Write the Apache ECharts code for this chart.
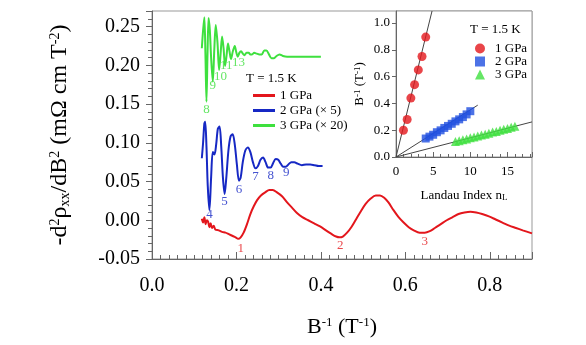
<!DOCTYPE html>
<html>
<head>
<meta charset="utf-8">
<script src="https://cdn.jsdelivr.net/npm/echarts@6/dist/echarts.min.js"></script>
<style>html,body{margin:0;padding:0;background:#fff}#c{width:586px;height:345px}</style>
</head>
<body>
<div id="c"></div>
<script>
// ---- main chart data (B^-1 in T^-1, -d2rho/dB2 in mOhm cm T^-2) ----
const red1x = [0.118,0.121,0.124,0.127,0.130,0.133,0.136,0.139,0.142,0.146,0.150,0.158,0.166,0.174,0.182,0.190,0.198,0.204,0.210,0.217,0.225,0.233,0.241,0.249,0.258,0.268,0.278,0.286,0.296,0.308,0.320,0.332,0.344,0.356,0.370,0.384,0.398,0.412,0.426,0.436,0.444,0.452,0.462,0.472,0.482,0.494,0.506,0.518,0.530,0.540,0.550,0.560,0.572,0.584,0.596,0.608,0.620,0.634,0.646,0.658,0.670,0.684,0.698,0.712,0.726,0.740,0.754,0.768,0.782,0.798,0.814,0.830,0.846,0.862,0.878,0.900];
const red1y = [0.002,-0.003,0.004,-0.005,0.000,-0.002,-0.009,-0.004,-0.010,-0.007,-0.012,-0.013,-0.015,-0.016,-0.018,-0.020,-0.022,-0.024,-0.022,-0.016,-0.005,0.008,0.018,0.026,0.032,0.036,0.039,0.039,0.036,0.031,0.023,0.016,0.009,0.004,0.000,-0.004,-0.008,-0.013,-0.018,-0.021,-0.022,-0.021,-0.016,-0.009,0.000,0.011,0.021,0.028,0.032,0.032,0.029,0.023,0.013,0.004,-0.003,-0.009,-0.013,-0.016,-0.016,-0.014,-0.010,-0.005,0.000,0.004,0.008,0.010,0.011,0.010,0.008,0.005,0.001,-0.003,-0.007,-0.010,-0.013,-0.017];

const blue2x = [0.118,0.121,0.124,0.126,0.129,0.132,0.136,0.140,0.144,0.148,0.152,0.156,0.160,0.164,0.168,0.172,0.176,0.181,0.186,0.191,0.196,0.201,0.206,0.210,0.215,0.221,0.227,0.233,0.239,0.245,0.251,0.257,0.263,0.269,0.275,0.281,0.287,0.293,0.299,0.305,0.311,0.317,0.323,0.330,0.337,0.345,0.355,0.365,0.375,0.385,0.395,0.404];
const blue2y = [0.080,0.100,0.125,0.127,0.095,0.045,0.013,0.055,0.088,0.085,0.098,0.118,0.121,0.095,0.055,0.034,0.055,0.090,0.108,0.111,0.098,0.072,0.051,0.055,0.075,0.090,0.094,0.088,0.075,0.067,0.070,0.078,0.081,0.075,0.068,0.068,0.074,0.079,0.078,0.073,0.069,0.069,0.072,0.075,0.075,0.073,0.071,0.072,0.072,0.071,0.070,0.070];

const green3x = [0.118,0.121,0.124,0.1265,0.129,0.1315,0.134,0.137,0.140,0.144,0.1475,0.151,0.155,0.159,0.1625,0.166,0.1695,0.173,0.1765,0.180,0.1835,0.187,0.1915,0.196,0.1995,0.203,0.207,0.211,0.215,0.219,0.224,0.229,0.233,0.237,0.242,0.248,0.254,0.260,0.266,0.271,0.277,0.283,0.289,0.295,0.302,0.310,0.320,0.335,0.350,0.370,0.385,0.400];
const green3y = [0.222,0.245,0.262,0.215,0.153,0.215,0.261,0.245,0.210,0.179,0.220,0.252,0.230,0.194,0.215,0.237,0.222,0.199,0.212,0.228,0.218,0.208,0.218,0.225,0.217,0.211,0.216,0.218,0.215,0.213,0.216,0.216,0.214,0.214,0.216,0.215,0.214,0.214,0.219,0.219,0.214,0.209,0.209,0.212,0.214,0.212,0.211,0.211,0.211,0.211,0.211,0.211];

// Landau-level index annotations [B^-1, value, text]
const redIdx = [[0.210,-0.036,'1'],[0.446,-0.033,'2'],[0.646,-0.028,'3']];
const blueIdx = [[0.136,0.007,'4'],[0.172,0.024,'5'],[0.206,0.040,'6'],[0.245,0.056,'7'],[0.281,0.058,'8'],[0.318,0.062,'9']];
const greenIdx = [[0.129,0.1425,'8'],[0.1436,0.1735,'9'],[0.162,0.186,'10'],[0.176,0.200,'11'],[0.205,0.203,'13']];

const mainXTicks = [0.0,0.2,0.4,0.6,0.8];
const mainYTicks = [-0.05,0.00,0.05,0.10,0.15,0.20,0.25];

// ---- inset data: Landau index n_L vs B^-1 ----
const inRedN = [1,1.5,2,2.5,3,3.5,4];
const inRedB = [0.20,0.28,0.44,0.54,0.65,0.75,0.895];
const inBlueN = [4,4.5,5,5.5,6,6.5,7,7.5,8,8.5,9,9.5,10];
const inBlueB = [0.138,0.152,0.166,0.185,0.199,0.217,0.232,0.248,0.266,0.281,0.298,0.318,0.342];
const inGreenN = [8,8.5,9,9.5,10,10.5,11,11.5,12,12.5,13,13.5,14,14.5,15,15.5,16];
const inGreenB = [0.116,0.121,0.129,0.135,0.143,0.149,0.156,0.164,0.170,0.177,0.186,0.191,0.199,0.207,0.213,0.222,0.229];
const fitRed = [[0,0],[4.85,1.09]];
const fitBlue = [[0,0],[11,0.387]];
const fitGreen = [[0,0],[18.3,0.262]];

const mainNames = ['1 GPa','2 GPa (\u00d7 5)','3 GPa (\u00d7 20)'];
const insetNames = ['1 GPa','2 GPa','3 GPa'];
const tempText = 'T = 1.5 K';

const RED='#e3161c', BLUE='#1628c4', GREEN='#3ee03e';
const FF = '"Liberation Serif","Times New Roman",serif';
const zip = (a,b)=>a.map((v,i)=>[v,b[i]]);

const chart = echarts.init(document.getElementById('c'), null, {renderer:'canvas'});
const sup = {fontSize:13, fontFamily:FF, verticalAlign:'top', lineHeight:12, color:'#000'};
const supY = {fontSize:14, fontFamily:FF, verticalAlign:'top', lineHeight:13, color:'#000'};
const subY = {fontSize:14, fontFamily:FF, verticalAlign:'bottom', lineHeight:13, color:'#000'};
const supS = {fontSize:9, fontFamily:FF, verticalAlign:'top', lineHeight:8, color:'#000'};
const subS = {fontSize:9, fontFamily:FF, verticalAlign:'bottom', lineHeight:8, color:'#000'};

function labelSeries(arr,color){
  return {type:'scatter', xAxisIndex:0, yAxisIndex:0, symbolSize:0, silent:true, z:5,
    data: arr.map(d=>({value:[d[0],d[1]], name:d[2]})),
    label:{show:true, position:'inside', formatter:p=>p.name, color:color, fontFamily:FF, fontSize:13}};
}

const option = {
  animation:false,
  backgroundColor:'#fff',
  grid:[
    {left:152, right:54, top:11, bottom:86, show:true, borderColor:'#999', borderWidth:1, backgroundColor:'transparent'},
    {left:396, right:54, top:11, bottom:188, show:true, borderColor:'#999', borderWidth:1, backgroundColor:'#fff', z:10}
  ],
  xAxis:[
    {gridIndex:0, type:'value', min:0, max:0.9, interval:0.2,
      axisLine:{onZero:false, lineStyle:{color:'#666'}},
      axisTick:{inside:true, length:7, lineStyle:{color:'#666'}},
      minorTick:{show:true, splitNumber:10, length:4, lineStyle:{color:'#666'}},
      splitLine:{show:false},
      axisLabel:{fontFamily:FF, fontSize:20, color:'#000', margin:17,
        formatter:v=> mainXTicks.some(t=>Math.abs(t-v)<1e-9) ? v.toFixed(1) : ''},
      name:'B{s|-1} (T{s|-1})', nameLocation:'middle', nameGap:57,
      nameTextStyle:{fontFamily:FF, fontSize:22, color:'#000', rich:{s:sup}}
    },
    {gridIndex:1, type:'value', min:0, max:18.3, interval:5, z:11,
      axisLine:{onZero:false, lineStyle:{color:'#666'}},
      axisTick:{inside:true, length:5, lineStyle:{color:'#666'}},
      minorTick:{show:true, splitNumber:5, length:3, lineStyle:{color:'#666'}},
      splitLine:{show:false},
      axisLabel:{fontFamily:FF, fontSize:13, color:'#000', margin:8, showMaxLabel:false},
      name:'Landau Index n{s|L}', nameLocation:'middle', nameGap:32,
      nameTextStyle:{fontFamily:FF, fontSize:13, color:'#000', rich:{s:subS}}
    }
  ],
  yAxis:[
    {gridIndex:0, type:'value', min:-0.05, max:0.27, interval:0.05,
      axisLine:{show:true, onZero:false, lineStyle:{color:'#666'}},
      axisTick:{show:true, inside:false, length:6, lineStyle:{color:'#666'}},
      minorTick:{show:true, splitNumber:5, length:4, lineStyle:{color:'#666'}},
      splitLine:{show:false},
      axisLabel:{fontFamily:FF, fontSize:20, color:'#000', margin:12,
        formatter:v=> mainYTicks.some(t=>Math.abs(t-v)<1e-9) ? v.toFixed(2) : ''},
      name:'-d{p|2}\u03c1{b|xx}/dB{p|2} (m\u03a9 cm T{p|-2})', nameLocation:'middle', nameGap:80,
      nameTextStyle:{fontFamily:FF, fontSize:24, color:'#000', rich:{p:supY, b:subY}}
    },
    {gridIndex:1, type:'value', min:0, max:1.09, interval:0.2, z:11,
      axisLine:{show:true, onZero:false, lineStyle:{color:'#666'}},
      axisTick:{show:true, inside:false, length:4, lineStyle:{color:'#666'}},
      splitLine:{show:false},
      axisLabel:{fontFamily:FF, fontSize:13, color:'#000', margin:6, formatter:v=>v.toFixed(1)},
      name:'B{s|-1} (T{s|-1})', nameLocation:'middle', nameGap:30,
      nameTextStyle:{fontFamily:FF, fontSize:13, color:'#000', rich:{s:supS}}
    }
  ],
  legend:[
    {data:mainNames, orient:'vertical', left:248, top:84, itemWidth:22, itemHeight:3, itemGap:2,
      icon:'rect', textStyle:{fontFamily:FF, fontSize:13, color:'#000'}, selectedMode:false},
    {data:['i1','i2','i3'], orient:'vertical', left:470, top:37, itemWidth:10, itemHeight:10, itemGap:0,
      formatter:n=>insetNames[['i1','i2','i3'].indexOf(n)], z:20,
      textStyle:{fontFamily:FF, fontSize:13, color:'#000', padding:[0,0,0,5]}, selectedMode:false}
  ],
  graphic:[
    {type:'text', left:246, top:72, z:20, style:{text:tempText, font:'13px '+FF, fill:'#000'}},
    {type:'text', left:470, top:23, z:20, style:{text:tempText, font:'13px '+FF, fill:'#000'}}
  ],
  series:[
    {name:mainNames[0], type:'line', xAxisIndex:0, yAxisIndex:0, data:zip(red1x,red1y), showSymbol:false, smooth:0.3, lineStyle:{color:RED,width:2}, itemStyle:{color:RED}},
    {name:mainNames[1], type:'line', xAxisIndex:0, yAxisIndex:0, data:zip(blue2x,blue2y), showSymbol:false, smooth:0.3, lineStyle:{color:BLUE,width:2}, itemStyle:{color:BLUE}},
    {name:mainNames[2], type:'line', xAxisIndex:0, yAxisIndex:0, data:zip(green3x,green3y), showSymbol:false, smooth:0.3, lineStyle:{color:GREEN,width:2}, itemStyle:{color:GREEN}},
    labelSeries(redIdx,RED), labelSeries(blueIdx,BLUE), labelSeries(greenIdx,GREEN),
    {type:'line', xAxisIndex:1, yAxisIndex:1, data:fitRed, showSymbol:false, lineStyle:{color:'#444',width:1}, z:12, silent:true},
    {type:'line', xAxisIndex:1, yAxisIndex:1, data:fitBlue, showSymbol:false, lineStyle:{color:'#444',width:1}, z:12, silent:true},
    {type:'line', xAxisIndex:1, yAxisIndex:1, data:fitGreen, showSymbol:false, lineStyle:{color:'#444',width:1}, z:12, silent:true},
    {name:'i1', type:'scatter', xAxisIndex:1, yAxisIndex:1, data:zip(inRedN,inRedB), symbol:'circle', symbolSize:9, itemStyle:{color:RED}, z:13},
    {name:'i2', type:'scatter', xAxisIndex:1, yAxisIndex:1, data:zip(inBlueN,inBlueB), symbol:'rect', symbolSize:8, itemStyle:{color:'#1f4fe0'}, z:13},
    {name:'i3', type:'scatter', xAxisIndex:1, yAxisIndex:1, data:zip(inGreenN,inGreenB), symbol:'triangle', symbolSize:9, itemStyle:{color:GREEN}, z:13}
  ]
};
chart.setOption(option);
</script>
</body>
</html>
